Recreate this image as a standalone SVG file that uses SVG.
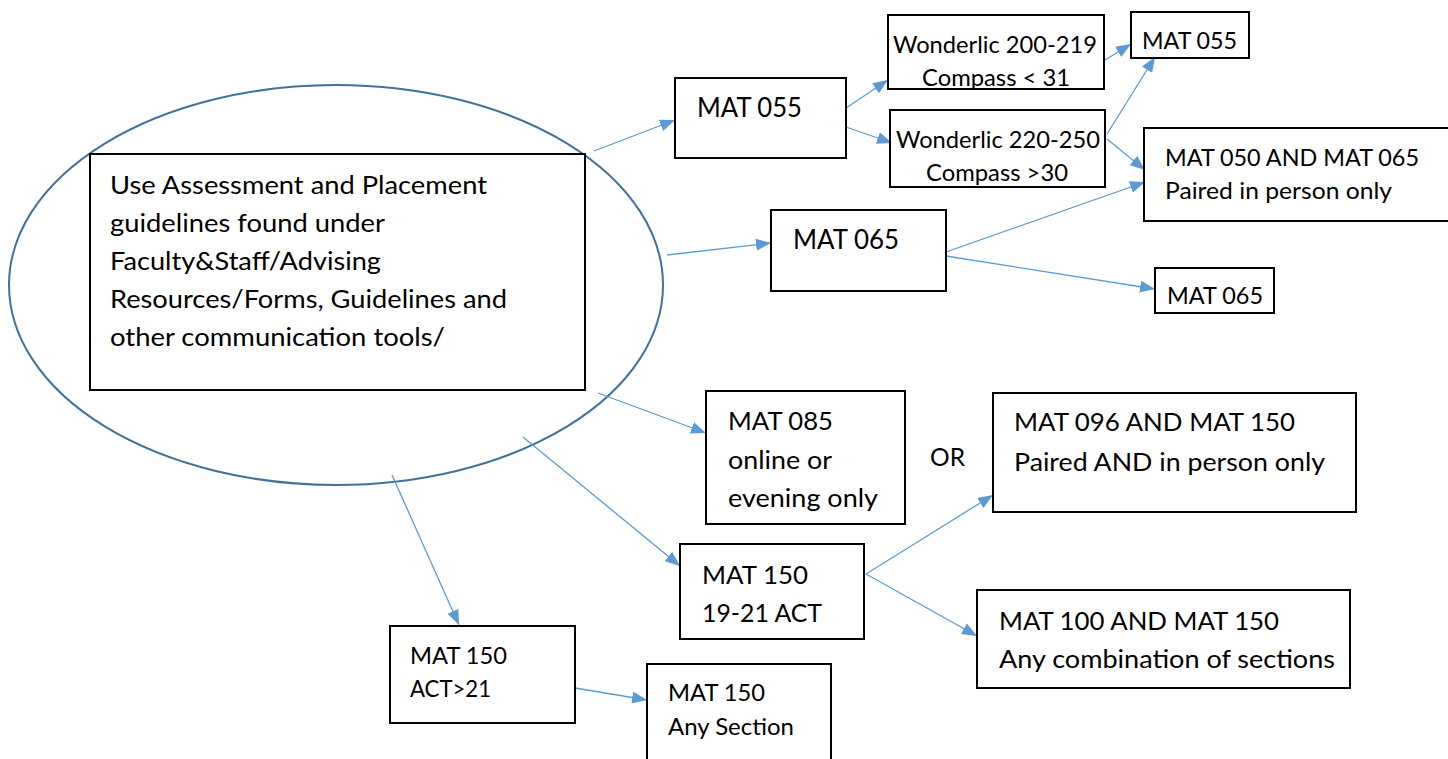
<svg xmlns="http://www.w3.org/2000/svg" width="1448" height="759" viewBox="0 0 1448 759">
<style>
.box{fill:#fff;stroke:#000;stroke-width:2}
.t{font-family:Lato,"Liberation Sans",sans-serif;fill:#000}
.f26{font-size:27px}
.f24{font-size:25px}
.f23{font-size:24px}
.c{stroke:#5B9BD5;stroke-width:1.3;fill:none;marker-end:url(#ah)}
</style>
<defs>
<marker id="ah" markerUnits="userSpaceOnUse" markerWidth="16" markerHeight="12" refX="15" refY="6" orient="auto">
<path d="M0,0 L15,6 L0,12 Z" fill="#5B9BD5"/>
</marker>
</defs>
<rect width="1448" height="759" fill="#fff"/>
<g id="start">
<ellipse cx="336" cy="285" rx="327" ry="200" fill="#fff" stroke="#41719C" stroke-width="2"/>
<rect class="box" x="90" y="154" width="495" height="236"/>
<text class="t f24" x="110" y="194" textLength="377" lengthAdjust="spacingAndGlyphs">Use Assessment and Placement</text>
<text class="t f24" x="110" y="232" textLength="275" lengthAdjust="spacingAndGlyphs">guidelines found under</text>
<text class="t f24" x="110" y="270" textLength="271" lengthAdjust="spacingAndGlyphs">Faculty&amp;Staff/Advising</text>
<text class="t f24" x="110" y="308" textLength="397" lengthAdjust="spacingAndGlyphs">Resources/Forms, Guidelines and</text>
<text class="t f24" x="110" y="346" textLength="335" lengthAdjust="spacingAndGlyphs">other communication tools/</text>
</g>
<g id="connectors">
<line class="c" x1="594" y1="151" x2="675" y2="120"/>
<line class="c" x1="667" y1="255" x2="771" y2="243"/>
<line class="c" x1="598" y1="393" x2="706" y2="433"/>
<line class="c" x1="523" y1="437" x2="680" y2="566"/>
<line class="c" x1="392" y1="475" x2="459" y2="625"/>
<line class="c" x1="846" y1="108" x2="888" y2="80"/>
<line class="c" x1="846" y1="127" x2="892" y2="143"/>
<line class="c" x1="1105" y1="60" x2="1131" y2="44"/>
<line class="c" x1="1107" y1="134" x2="1155" y2="57"/>
<line class="c" x1="1107" y1="139" x2="1145" y2="170"/>
<line class="c" x1="946" y1="252" x2="1145" y2="182"/>
<line class="c" x1="946" y1="256" x2="1155" y2="289"/>
<line class="c" x1="866" y1="574" x2="993" y2="495"/>
<line class="c" x1="866" y1="574" x2="977" y2="636"/>
<line class="c" x1="575" y1="688" x2="647" y2="700"/>
</g>
<g id="mat055">
<rect class="box" x="675" y="78" width="171" height="80"/>
<text class="t f26" x="697" y="117" textLength="105" lengthAdjust="spacingAndGlyphs">MAT 055</text>
</g>
<g id="wonderlic1">
<rect class="box" x="888" y="15" width="216" height="74"/>
<text class="t f23" x="893" y="53" textLength="204" lengthAdjust="spacingAndGlyphs">Wonderlic 200-219</text>
<text class="t f23" x="922" y="86" textLength="148" lengthAdjust="spacingAndGlyphs">Compass &lt; 31</text>
</g>
<g id="wonderlic2">
<rect class="box" x="890" y="110" width="215" height="77"/>
<text class="t f23" x="896" y="148" textLength="204" lengthAdjust="spacingAndGlyphs">Wonderlic 220-250</text>
<text class="t f23" x="926" y="181" textLength="142" lengthAdjust="spacingAndGlyphs">Compass &gt;30</text>
</g>
<g id="mat055b">
<rect class="box" x="1131" y="12" width="118" height="46"/>
<text class="t f23" x="1142" y="49" textLength="95" lengthAdjust="spacingAndGlyphs">MAT 055</text>
</g>
<g id="mat050">
<rect class="box" x="1144" y="128" width="310" height="93"/>
<text class="t f23" x="1165" y="166" textLength="254" lengthAdjust="spacingAndGlyphs">MAT 050 AND MAT 065</text>
<text class="t f23" x="1165" y="199" textLength="227" lengthAdjust="spacingAndGlyphs">Paired in person only</text>
</g>
<g id="mat065">
<rect class="box" x="771" y="210" width="175" height="81"/>
<text class="t f26" x="793" y="249" textLength="106" lengthAdjust="spacingAndGlyphs">MAT 065</text>
</g>
<g id="mat065b">
<rect class="box" x="1155" y="268" width="119" height="45"/>
<text class="t f23" x="1167" y="304" textLength="96" lengthAdjust="spacingAndGlyphs">MAT 065</text>
</g>
<g id="mat085">
<rect class="box" x="706" y="391" width="199" height="133"/>
<text class="t f24" x="728" y="430" textLength="105" lengthAdjust="spacingAndGlyphs">MAT 085</text>
<text class="t f24" x="728" y="469" textLength="104" lengthAdjust="spacingAndGlyphs">online or</text>
<text class="t f24" x="728" y="507" textLength="150" lengthAdjust="spacingAndGlyphs">evening only</text>
</g>
<g id="or">
<text class="t f24" x="930" y="466" textLength="35" lengthAdjust="spacingAndGlyphs">OR</text>
</g>
<g id="mat096">
<rect class="box" x="993" y="393" width="363" height="119"/>
<text class="t f24" x="1014" y="431" textLength="281" lengthAdjust="spacingAndGlyphs">MAT 096 AND MAT 150</text>
<text class="t f24" x="1014" y="471" textLength="311" lengthAdjust="spacingAndGlyphs">Paired AND in person only</text>
</g>
<g id="mat150act">
<rect class="box" x="680" y="544" width="184" height="95"/>
<text class="t f24" x="702" y="584" textLength="106" lengthAdjust="spacingAndGlyphs">MAT 150</text>
<text class="t f24" x="702" y="622" textLength="120" lengthAdjust="spacingAndGlyphs">19-21 ACT</text>
</g>
<g id="mat100">
<rect class="box" x="977" y="590" width="373" height="98"/>
<text class="t f24" x="999" y="630" textLength="280" lengthAdjust="spacingAndGlyphs">MAT 100 AND MAT 150</text>
<text class="t f24" x="999" y="668" textLength="336" lengthAdjust="spacingAndGlyphs">Any combination of sections</text>
</g>
<g id="mat150gt21">
<rect class="box" x="390" y="626" width="185" height="97"/>
<text class="t f23" x="410" y="664" textLength="97" lengthAdjust="spacingAndGlyphs">MAT 150</text>
<text class="t f23" x="410" y="697" textLength="81" lengthAdjust="spacingAndGlyphs">ACT&gt;21</text>
</g>
<g id="mat150any">
<rect class="box" x="647" y="664" width="184" height="100"/>
<text class="t f23" x="668" y="701" textLength="97" lengthAdjust="spacingAndGlyphs">MAT 150</text>
<text class="t f23" x="668" y="735" textLength="126" lengthAdjust="spacingAndGlyphs">Any Section</text>
</g>
</svg>
